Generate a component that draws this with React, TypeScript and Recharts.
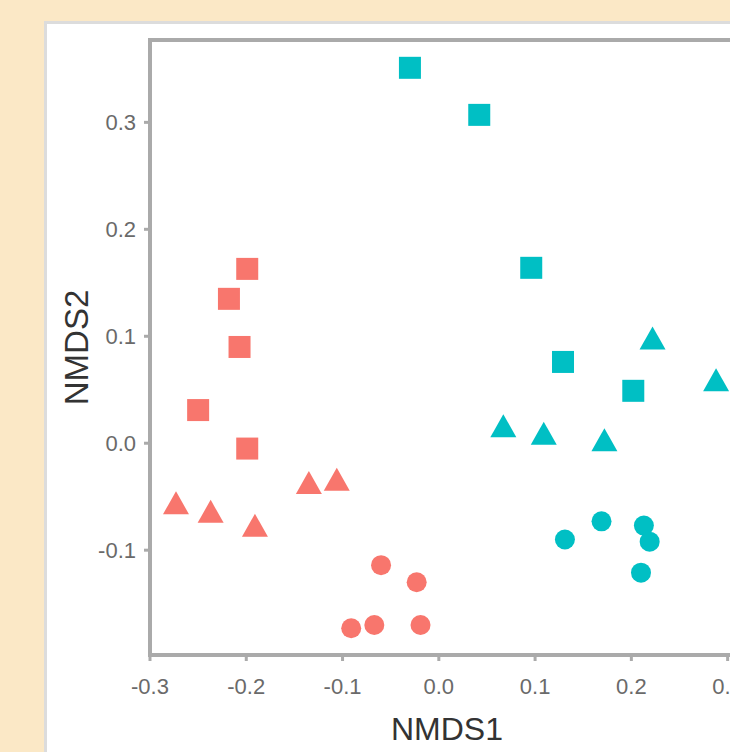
import React from 'react';
import {
  ScatterChart,
  Scatter,
  XAxis,
  YAxis,
  ReferenceArea,
} from 'recharts';

// NMDS scores, split by colour group and marker shape
const redSquareX = [-0.199, -0.218, -0.207, -0.25, -0.199];
const redSquareY = [0.163, 0.135, 0.09, 0.031, -0.005];
const redTriangleX = [-0.273, -0.237, -0.191, -0.135, -0.106];
const redTriangleY = [-0.058, -0.066, -0.079, -0.039, -0.036];
const redCircleX = [-0.06, -0.023, -0.091, -0.067, -0.019];
const redCircleY = [-0.114, -0.13, -0.173, -0.17, -0.17];

const tealSquareX = [-0.03, 0.042, 0.096, 0.129, 0.202];
const tealSquareY = [0.351, 0.307, 0.164, 0.076, 0.049];
const tealTriangleX = [0.222, 0.288, 0.067, 0.109, 0.172];
const tealTriangleY = [0.096, 0.057, 0.014, 0.007, 0.001];
const tealCircleX = [0.131, 0.169, 0.213, 0.219, 0.21];
const tealCircleY = [-0.09, -0.073, -0.077, -0.092, -0.121];

const xTicks = [-0.3, -0.2, -0.1, 0.0, 0.1, 0.2, 0.3];
const yTicks = [-0.1, 0.0, 0.1, 0.2, 0.3];
const xDomain: [number, number] = [-0.3, 0.317];
const yDomain: [number, number] = [-0.198, 0.377];

const RED = '#F8766D';
const TEAL = '#00BFC4';
const FONT = '"Liberation Sans", Arial, sans-serif';

const toPoints = (xs: number[], ys: number[]) => xs.map((x, i) => ({ x, y: ys[i] }));

function Marker(props: any) {
  const { cx, cy, fill, kind } = props;
  if (cx == null || cy == null) return null;
  if (kind === 'square') {
    return <rect x={cx - 11} y={cy - 11} width={22} height={22} fill={fill} />;
  }
  if (kind === 'triangle') {
    return <polygon points={`${cx},${cy - 14} ${cx + 13},${cy + 9} ${cx - 13},${cy + 9}`} fill={fill} />;
  }
  return <circle cx={cx} cy={cy} r={10} fill={fill} />;
}

const fmt = (v: number) => (Math.abs(v) < 1e-9 ? '0.0' : v.toFixed(1));

function YTitle(props: any) {
  const vb = props.viewBox || {};
  const x = vb.x + 29;
  const y = vb.y + vb.height / 2;
  return (
    <text x={x} y={y} transform={`rotate(-90, ${x}, ${y})`} textAnchor="middle" dominantBaseline="central"
      fill="#333" fontSize={33} fontFamily={FONT}>
      NMDS2
    </text>
  );
}

export default function App() {
  const series = [
    { key: 'rs', data: toPoints(redSquareX, redSquareY), fill: RED, kind: 'square' },
    { key: 'rt', data: toPoints(redTriangleX, redTriangleY), fill: RED, kind: 'triangle' },
    { key: 'rc', data: toPoints(redCircleX, redCircleY), fill: RED, kind: 'circle' },
    { key: 'ts', data: toPoints(tealSquareX, tealSquareY), fill: TEAL, kind: 'square' },
    { key: 'tt', data: toPoints(tealTriangleX, tealTriangleY), fill: TEAL, kind: 'triangle' },
    { key: 'tc', data: toPoints(tealCircleX, tealCircleY), fill: TEAL, kind: 'circle' },
  ];

  return (
    <div style={{ position: 'fixed', left: 0, top: 0, width: 730, height: 752, overflow: 'hidden', background: '#FBE8C6' }}>
      <div style={{ position: 'absolute', left: 44, top: 21, width: 760, height: 760, background: '#fff', borderLeft: '3px solid #dcdcdc', borderTop: '3px solid #dcdcdc' }}>
        <ScatterChart width={700} height={728} margin={{ top: 16, right: 3, bottom: 0, left: 0 }}>
          <XAxis
            type="number"
            dataKey="x"
            domain={xDomain}
            ticks={xTicks}
            allowDataOverflow
            tickFormatter={fmt}
            axisLine={false}
            tickLine={{ stroke: '#aaa', strokeWidth: 3 }}
            tickSize={6}
            tickMargin={17}
            height={97}
            tick={{ fill: '#6a6a6a', fontSize: 22, fontFamily: FONT }}
            label={{ value: 'NMDS1', position: 'insideBottom', offset: 12, fill: '#333', fontSize: 32, fontFamily: FONT }}
          />
          <YAxis
            type="number"
            dataKey="y"
            domain={yDomain}
            ticks={yTicks}
            allowDataOverflow
            tickFormatter={fmt}
            axisLine={false}
            tickLine={{ stroke: '#aaa', strokeWidth: 3 }}
            tickSize={6}
            tickMargin={8}
            width={103}
            tick={{ fill: '#6a6a6a', fontSize: 22, fontFamily: FONT }}
            label={<YTitle />}
          />
          <ReferenceArea
            x1={xDomain[0]}
            x2={xDomain[1]}
            y1={yDomain[0]}
            y2={yDomain[1]}
            fill="none"
            stroke="#aaa"
            strokeWidth={4}
          />
          {series.map((s) => (
            <Scatter
              key={s.key}
              data={s.data}
              fill={s.fill}
              isAnimationActive={false}
              shape={(p: any) => <Marker {...p} kind={s.kind} fill={s.fill} />}
            />
          ))}
        </ScatterChart>
      </div>
    </div>
  );
}
